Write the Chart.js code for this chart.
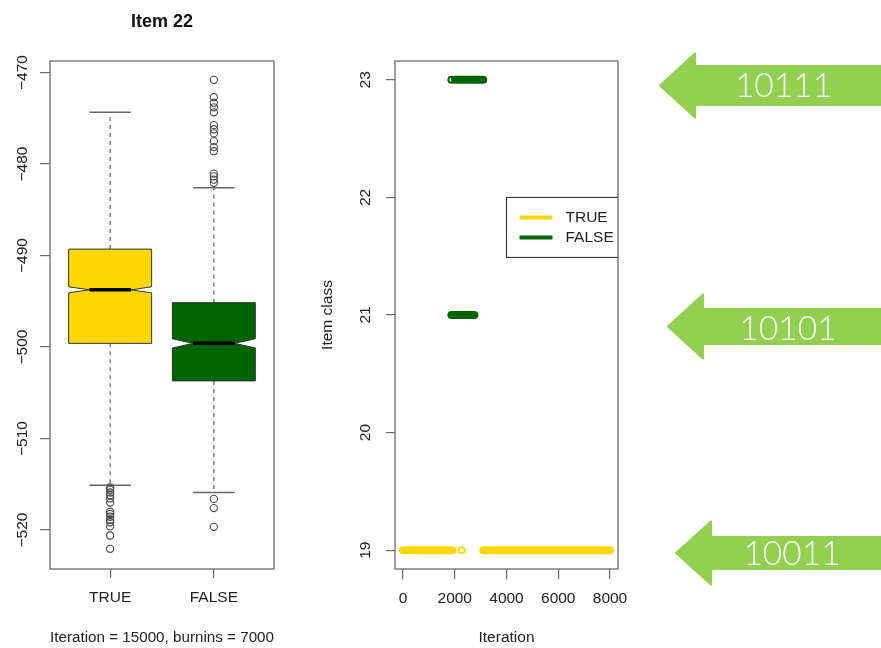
<!DOCTYPE html>
<html>
<head>
<meta charset="utf-8">
<title>Item 22</title>
<script src="https://cdn.jsdelivr.net/npm/chart.js@4/dist/chart.umd.min.js"></script>
<style>
  html, body { margin: 0; padding: 0; background: #fff; width: 881px; height: 648px; overflow: hidden; }
  #boxWrap { position: absolute; left: 0; top: 0; width: 300px; height: 648px; }
  #traceWrap { position: absolute; left: 300px; top: 0; width: 340px; height: 648px; }
  #arrows { position: absolute; left: 0; top: 0; }
</style>
</head>
<body>
<div id="boxWrap"><canvas id="boxChart"></canvas></div>
<div id="traceWrap"><canvas id="traceChart"></canvas></div>
<svg id="arrows" width="881" height="648" viewBox="0 0 881 648"></svg>
<script>
// ---- Box plot: log-likelihood by group ----
const groups      = ['TRUE', 'FALSE'];
const groupFill   = ['#FFD700', '#006400'];
const whiskerLow  = [-515.1, -515.9];
const quartile1   = [-499.6, -503.7];
const medians     = [-493.75, -499.6];
const quartile3   = [-489.3, -495.15];
const whiskerHigh = [-474.35, -482.6];
const notchHalf   = [0.33, 0.5];
const outliersTRUE  = [-515.35, -515.6, -515.9, -516.2, -516.55, -517.0, -518.0, -518.25,
                       -518.55, -518.9, -519.15, -519.6, -520.6, -522.05];
const outliersFALSE = [-470.8, -472.7, -473.3, -473.8, -474.35, -475.75, -476.2, -476.65,
                       -477.5, -478.15, -478.6, -481.05, -481.35, -481.7, -482.05,
                       -516.6, -517.6, -519.65];
const valueTicks = [-520, -510, -500, -490, -480, -470];

// ---- Trace plot: item class per iteration ----
const iterTicks    = [0, 2000, 4000, 6000, 8000];
const classTicks   = [19, 20, 21, 22, 23];
const seriesNames  = ['TRUE', 'FALSE'];
const seriesColors = ['#FFD700', '#006400'];
// consecutive runs of iterations spent in one class
const trueRunStart  = [1, 3100];
const trueRunEnd    = [1920, 8000];
const trueRunClass  = [19, 19];
const trueLoneIter  = [2270];
const trueLoneClass = [19];
const falseRunStart  = [2010, 1870];
const falseRunEnd    = [3100, 2760];
const falseRunClass  = [23, 21];
const falseLoneIter  = [1870];
const falseLoneClass = [23];

// ---- Class codes ----
const arrowLabels = ['10111', '10101', '10011'];

const FONT = '"Liberation Sans", Arial, Helvetica, sans-serif';
const AXIS = '#6b6b6b';
const TEXT = '#222';
const SIZE = 15.5;

Chart.defaults.font.family = FONT;
Chart.defaults.font.size = SIZE;
Chart.defaults.color = TEXT;
Chart.defaults.animation = false;
Chart.defaults.events = [];

const minusSign = v => String(v).replace('-', '\u2212');

const framePlugin = {
  id: 'plotFrame',
  afterDatasetsDraw(chart) {
    const { ctx, chartArea: a } = chart;
    ctx.save();
    ctx.strokeStyle = AXIS;
    ctx.lineWidth = 1.3;
    ctx.strokeRect(a.left, a.top, a.right - a.left, a.bottom - a.top);
    ctx.restore();
  }
};

const notchedBoxPlugin = {
  id: 'notchedBoxes',
  beforeDatasetsDraw(chart) {
    const { ctx, scales: { x, y } } = chart;
    const px = v => x.getPixelForValue(v);
    const py = v => y.getPixelForValue(v);
    const half = 0.4, capHalf = 0.2, notchW = 0.2;
    groups.forEach((g, i) => {
      const c = i + 1;
      const m = medians[i], n = notchHalf[i];
      ctx.save();
      // dashed whiskers
      ctx.strokeStyle = '#7a7a7a';
      ctx.lineWidth = 1.4;
      ctx.setLineDash([4, 4]);
      ctx.beginPath();
      ctx.moveTo(px(c), py(quartile3[i])); ctx.lineTo(px(c), py(whiskerHigh[i]));
      ctx.moveTo(px(c), py(quartile1[i])); ctx.lineTo(px(c), py(whiskerLow[i]));
      ctx.stroke();
      ctx.setLineDash([]);
      // staples
      ctx.strokeStyle = '#666';
      ctx.lineWidth = 1.5;
      ctx.beginPath();
      ctx.moveTo(px(c - capHalf), py(whiskerHigh[i])); ctx.lineTo(px(c + capHalf), py(whiskerHigh[i]));
      ctx.moveTo(px(c - capHalf), py(whiskerLow[i]));  ctx.lineTo(px(c + capHalf), py(whiskerLow[i]));
      ctx.stroke();
      // notched box
      ctx.beginPath();
      ctx.moveTo(px(c - half), py(quartile3[i]));
      ctx.lineTo(px(c + half), py(quartile3[i]));
      ctx.lineTo(px(c + half), py(m + n));
      ctx.lineTo(px(c + notchW), py(m));
      ctx.lineTo(px(c + half), py(m - n));
      ctx.lineTo(px(c + half), py(quartile1[i]));
      ctx.lineTo(px(c - half), py(quartile1[i]));
      ctx.lineTo(px(c - half), py(m - n));
      ctx.lineTo(px(c - notchW), py(m));
      ctx.lineTo(px(c - half), py(m + n));
      ctx.closePath();
      ctx.fillStyle = groupFill[i];
      ctx.fill();
      ctx.strokeStyle = '#333';
      ctx.lineWidth = 1;
      ctx.stroke();
      // median
      ctx.strokeStyle = '#000';
      ctx.lineWidth = 3.5;
      ctx.beginPath();
      ctx.moveTo(px(c - notchW), py(m));
      ctx.lineTo(px(c + notchW), py(m));
      ctx.stroke();
      ctx.restore();
    });
  }
};

const axisGrid = len => ({
  drawOnChartArea: false, drawTicks: true, tickLength: len, color: AXIS, lineWidth: 1.2
});

const outlierSet = (vals, pos) => ({
  data: vals.map(v => ({ x: pos, y: v })),
  pointStyle: 'circle', pointRadius: 3.6, borderWidth: 1.1,
  borderColor: '#4a4a4a', backgroundColor: 'rgba(0,0,0,0)'
});

new Chart(document.getElementById('boxChart'), {
  type: 'scatter',
  data: { datasets: [outlierSet(outliersTRUE, 1), outlierSet(outliersFALSE, 2)] },
  options: {
    responsive: true, maintainAspectRatio: false, devicePixelRatio: 1,
    layout: { padding: { left: 0, top: 0, right: 26, bottom: 0 } },
    plugins: {
      legend: { display: false }, tooltip: { enabled: false },
      title: {
        display: true, text: 'Item 22', fullSize: false, color: '#111',
        font: { size: 18, weight: 'bold', lineHeight: 1.2 },
        padding: { top: 11, bottom: 28.4 }
      }
    },
    scales: {
      x: {
        type: 'linear', min: 0.42, max: 2.58,
        afterBuildTicks: s => { s.ticks = groups.map((g, i) => ({ value: i + 1 })); },
        afterFit: s => { s.height = 79; },
        ticks: { callback: v => groups[v - 1] ?? '', autoSkip: false, maxRotation: 0, padding: 10.7 },
        grid: axisGrid(9),
        border: { display: false },
        title: { display: true, text: 'Iteration = 15000, burnins = 7000',
                 font: { size: SIZE, lineHeight: 1.2 }, padding: { top: 0, bottom: 0.7 } }
      },
      y: {
        type: 'linear', min: -524.26, max: -468.74,
        afterBuildTicks: s => { s.ticks = valueTicks.map(v => ({ value: v })); },
        afterFit: s => { s.width = 50; },
        ticks: { callback: minusSign, minRotation: 90, maxRotation: 90, crossAlign: 'center',
                 autoSkip: false, padding: 0 },
        grid: axisGrid(10),
        border: { display: false }
      }
    }
  },
  plugins: [notchedBoxPlugin, framePlugin]
});

// ---- trace plot ----
const runSets = (starts, ends, classes, color) => starts.map((s, i) => ({
  data: [{ x: s, y: classes[i] }, { x: ends[i], y: classes[i] }],
  showLine: true, borderColor: color, borderWidth: 8, borderCapStyle: 'round',
  pointRadius: 0
}));
const loneSet = (iters, classes, color) => ({
  data: iters.map((t, i) => ({ x: t, y: classes[i] })),
  showLine: false, pointStyle: 'circle', pointRadius: 3, pointBorderWidth: 2,
  pointBorderColor: color, pointBackgroundColor: '#fff'
});

const legendPlugin = {
  id: 'traceLegend',
  afterDatasetsDraw(chart) {
    const { ctx, chartArea: a, scales: { x, y } } = chart;
    const left = x.getPixelForValue(4000);
    const top = y.getPixelForValue(22);
    ctx.save();
    ctx.beginPath();
    ctx.rect(a.left, a.top, a.right - a.left, a.bottom - a.top);
    ctx.clip();
    ctx.fillStyle = '#fff';
    ctx.fillRect(left, top, 130, 60);
    ctx.strokeStyle = '#333';
    ctx.lineWidth = 1.1;
    ctx.strokeRect(left, top, 130, 60);
    ctx.font = SIZE + 'px ' + FONT;
    ctx.textBaseline = 'middle';
    ctx.textAlign = 'left';
    seriesNames.forEach((name, i) => {
      const ly = top + 20 + i * 20;
      ctx.strokeStyle = seriesColors[i];
      ctx.lineWidth = 4;
      ctx.beginPath();
      ctx.moveTo(left + 13, ly);
      ctx.lineTo(left + 46, ly);
      ctx.stroke();
      ctx.fillStyle = TEXT;
      ctx.fillText(name, left + 59, ly + 0.5);
    });
    ctx.restore();
  }
};

new Chart(document.getElementById('traceChart'), {
  type: 'scatter',
  data: {
    datasets: [
      ...runSets(trueRunStart, trueRunEnd, trueRunClass, seriesColors[0]),
      loneSet(trueLoneIter, trueLoneClass, seriesColors[0]),
      ...runSets(falseRunStart, falseRunEnd, falseRunClass, seriesColors[1]),
      loneSet(falseLoneIter, falseLoneClass, seriesColors[1])
    ]
  },
  options: {
    responsive: true, maintainAspectRatio: false, devicePixelRatio: 1,
    layout: { padding: { left: 0, top: 61, right: 22, bottom: 0 } },
    plugins: { legend: { display: false }, tooltip: { enabled: false } },
    scales: {
      x: {
        type: 'linear', min: -309, max: 8309,
        afterBuildTicks: s => { s.ticks = iterTicks.map(v => ({ value: v })); },
        afterFit: s => { s.height = 79; },
        ticks: { callback: v => String(v), autoSkip: false, maxRotation: 0, padding: 10.7 },
        grid: axisGrid(10),
        border: { display: false },
        title: { display: true, text: 'Iteration',
                 font: { size: SIZE, lineHeight: 1.2 }, padding: { top: 0, bottom: 0.7 } }
      },
      y: {
        type: 'linear', min: 18.84, max: 23.16,
        afterBuildTicks: s => { s.ticks = classTicks.map(v => ({ value: v })); },
        afterFit: s => { s.width = 95; },
        ticks: { callback: v => String(v), minRotation: 90, maxRotation: 90, crossAlign: 'center',
                 autoSkip: false, padding: 11.9 },
        grid: axisGrid(9),
        border: { display: false },
        title: { display: true, text: 'Item class',
                 font: { size: SIZE, lineHeight: 1.2 }, padding: { top: 18.3, bottom: 0 } }
      }
    }
  },
  plugins: [legendPlugin, framePlugin]
});

// ---- class code arrows ----
(function drawArrows() {
  const svg = document.getElementById('arrows');
  const NS = 'http://www.w3.org/2000/svg';
  // tip x, centre y, head half-height, shaft half-height, head length, label centre x, label baseline
  const shapes = [
    [660, 85.5, 32, 19.5, 35, 783.5, 97],
    [668, 326.5, 32, 17.5, 35, 788, 340],
    [676, 553, 31.5, 16, 35, 792, 565]
  ];
  shapes.forEach((s, i) => {
    const [tx, cy, hh, sh, hl, lx, ly] = s;
    const bx = tx + hl;
    const poly = document.createElementNS(NS, 'polygon');
    poly.setAttribute('points', [
      [900, cy - sh], [bx, cy - sh], [bx, cy - hh], [tx, cy],
      [bx, cy + hh], [bx, cy + sh], [900, cy + sh]
    ].map(p => p.join(',')).join(' '));
    poly.setAttribute('fill', '#92D050');
    poly.setAttribute('stroke', '#92D050');
    poly.setAttribute('stroke-width', '2');
    poly.setAttribute('stroke-linejoin', 'round');
    svg.appendChild(poly);
    const t = document.createElementNS(NS, 'text');
    t.setAttribute('x', lx);
    t.setAttribute('y', ly);
    t.setAttribute('fill', '#ffffff');
    t.setAttribute('text-anchor', 'middle');
    t.setAttribute('font-family', 'Lato, "Open Sans", sans-serif');
    t.setAttribute('font-weight', '300');
    t.setAttribute('font-size', '33.5');
    t.textContent = arrowLabels[i];
    svg.appendChild(t);
  });
})();
</script>
</body>
</html>
